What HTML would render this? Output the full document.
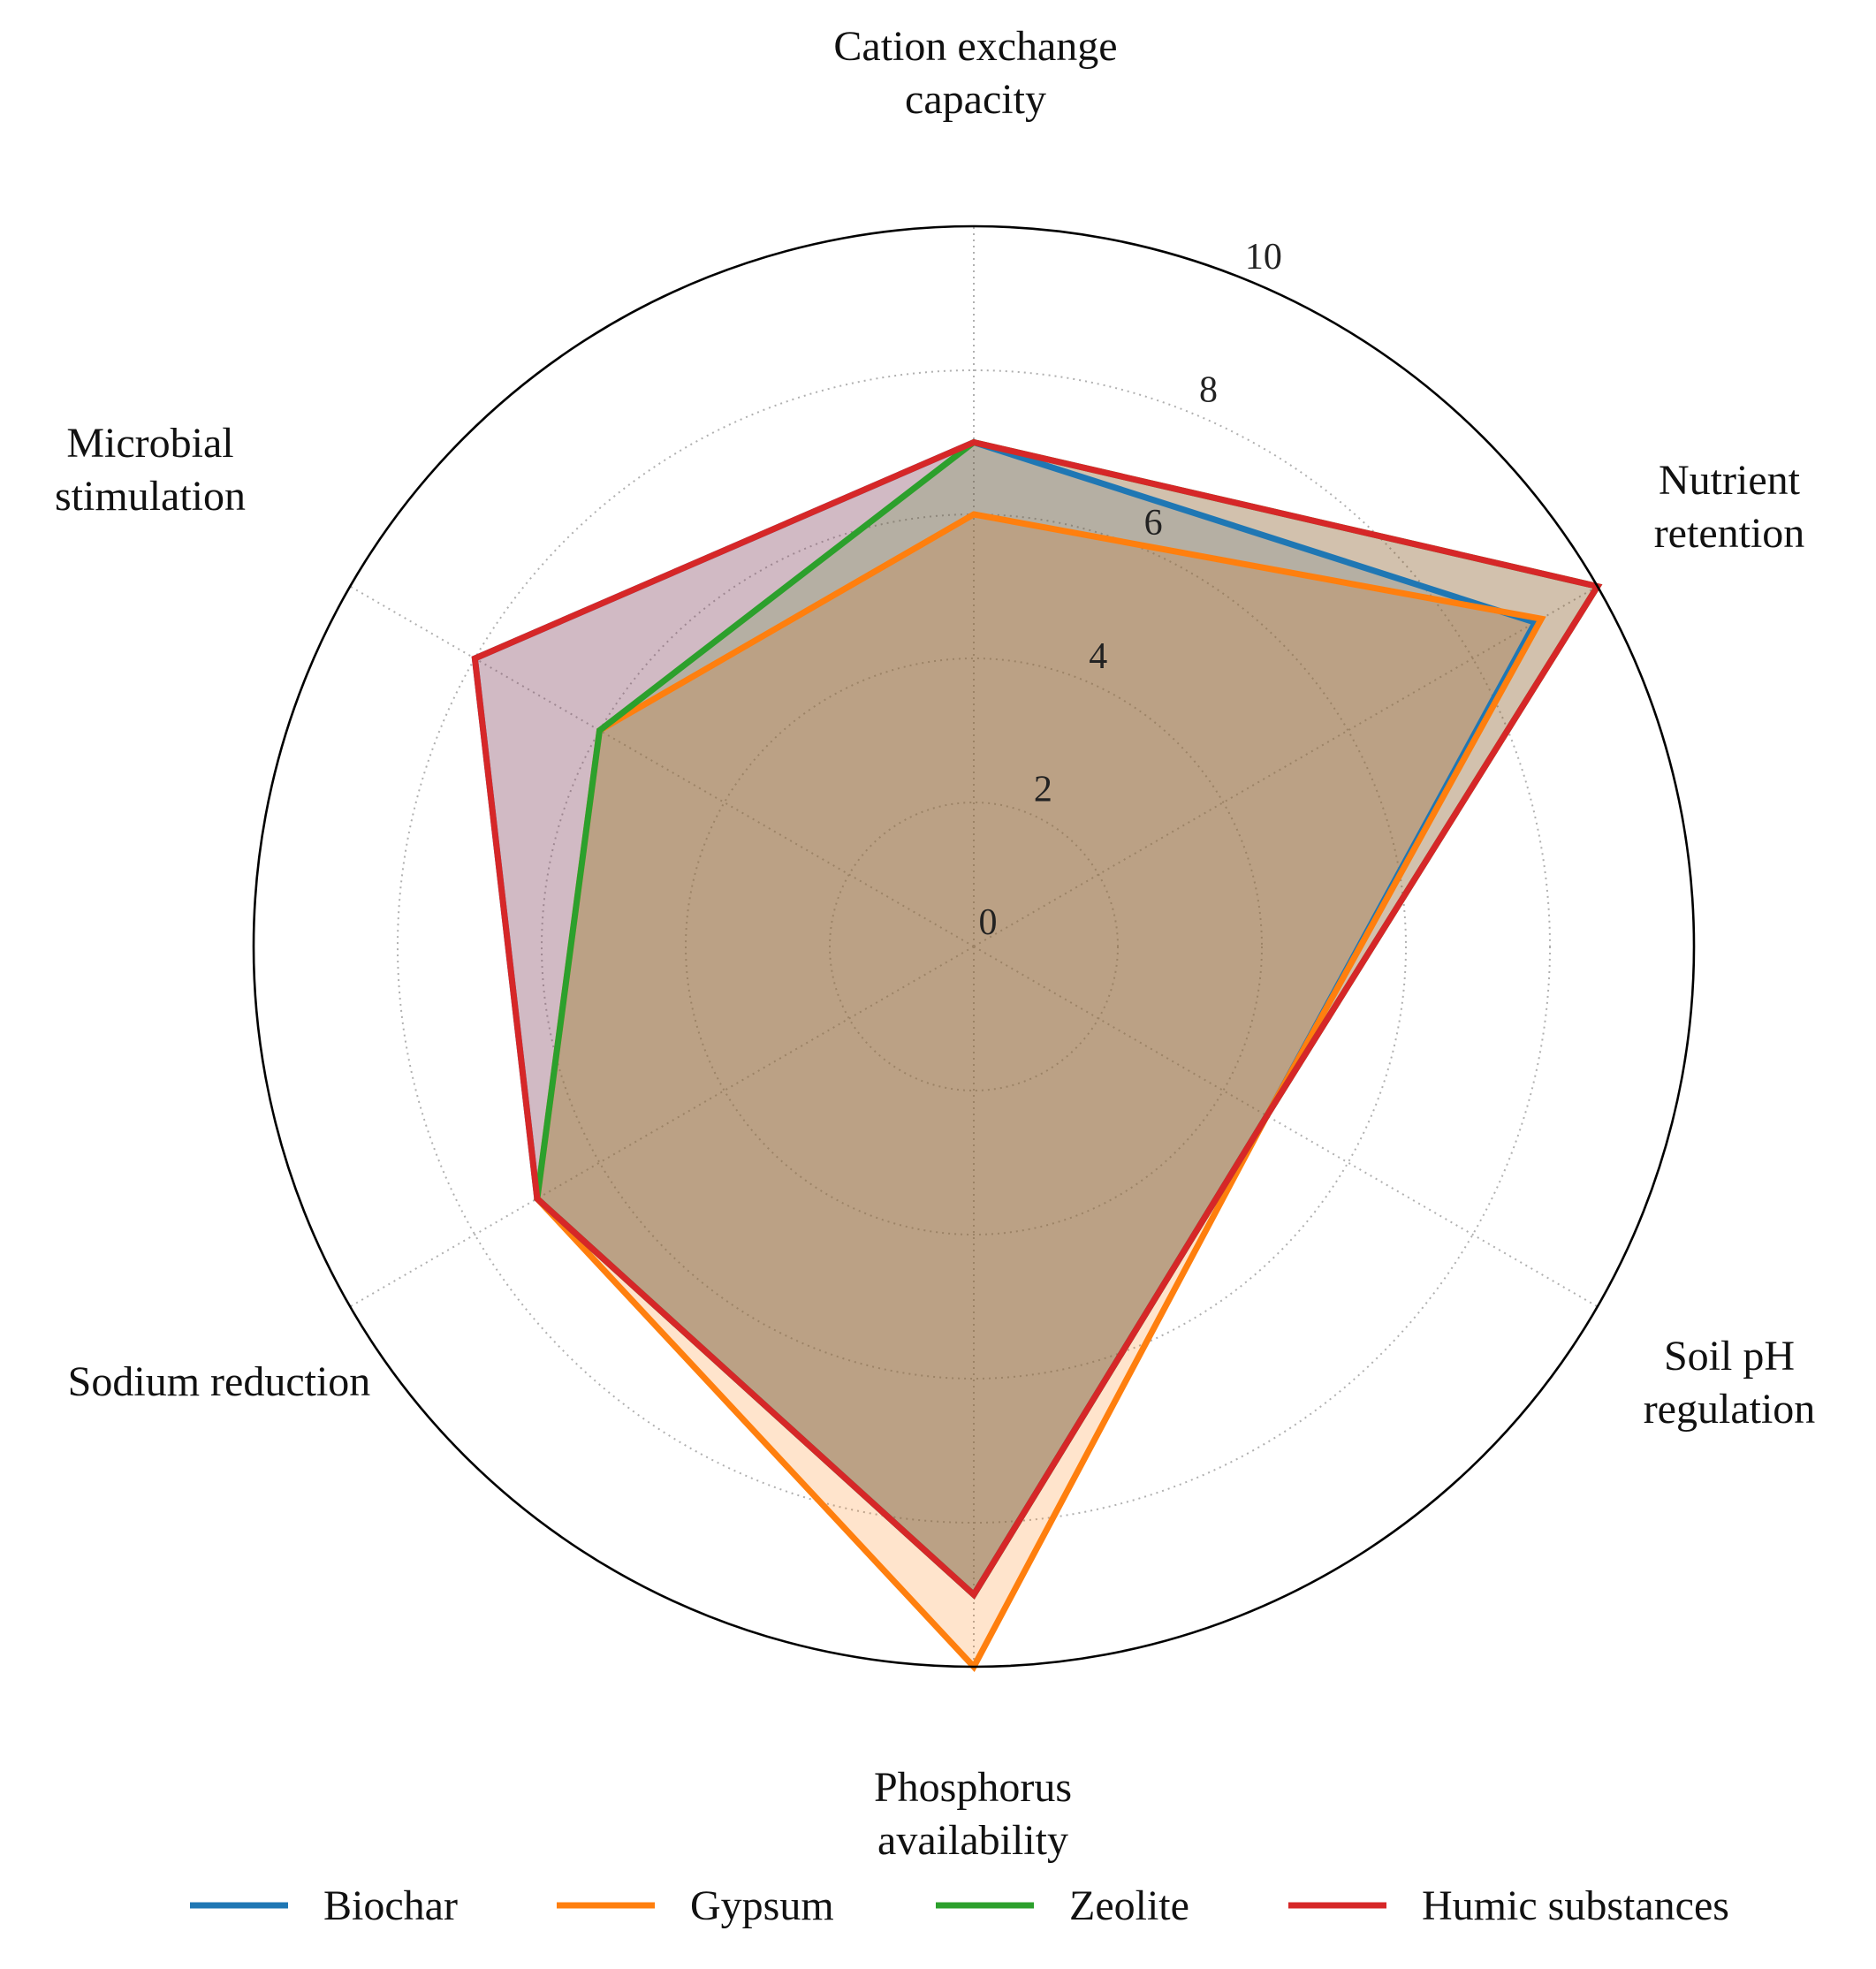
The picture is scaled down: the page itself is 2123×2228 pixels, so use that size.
<!DOCTYPE html>
<html><head><meta charset="utf-8"><style>
html,body{margin:0;padding:0;background:#fff;}
svg{display:block;font-family:"Liberation Serif",serif;}
</style></head><body>
<svg id="chart" width="2123" height="2228" viewBox="0 0 2123 2228" xmlns="http://www.w3.org/2000/svg">
<g id="grid"></g>
<g id="series"></g>
<g id="labels"></g>
<g id="legend"></g>
</svg>
<script>
const categories = ["Cation exchange|capacity","Nutrient|retention","Soil pH|regulation","Phosphorus|availability","Sodium reduction","Microbial|stimulation"];
const seriesNames = ["Biochar","Gypsum","Zeolite","Humic substances"];
const biochar = [7, 9, 4.7, 9, 7, 8];
const gypsum = [6, 9.1, 4.7, 10, 7, 6];
const zeolite = [7, 10, 4.7, 9, 7, 6];
const humic = [7, 10, 4.7, 9, 7, 8];
const rTicks = [0, 2, 4, 6, 8, 10];
const rMax = 10;

const colors = ["#1f77b4","#ff7f0e","#2ca02c","#d62728"];
const NS = "http://www.w3.org/2000/svg";
const cx = 1102, cy = 1071, R = 815;
function rScale(v){ return v / rMax * R; }
function angle(i){ return i * 2 * Math.PI / categories.length; }
function pt(i, v){ const a = angle(i), r = rScale(v); return [cx + r*Math.sin(a), cy - r*Math.cos(a)]; }
function mk(tag, attrs, parent){ const e = document.createElementNS(NS, tag); for (const k in attrs) e.setAttribute(k, attrs[k]); parent.appendChild(e); return e; }

const grid = document.getElementById("grid");
rTicks.forEach((t, k) => {
  if (t === 0 || t === rMax) return;
  const c = mk("circle", {cx: cx, cy: cy, r: rScale(t), fill: "none", stroke: "#b0b0b0", "stroke-width": 2, "stroke-dasharray": "2 5"}, grid);
  
  
});
categories.forEach((c, i) => {
  const p = pt(i, rMax);
  const l = mk("line", {x1: cx, y1: cy, x2: p[0], y2: p[1], stroke: "#b0b0b0", "stroke-width": 2, "stroke-dasharray": "2 5"}, grid);
  
  
});

const sg = document.getElementById("series");
const data = [biochar, gypsum, zeolite, humic];
data.forEach((vals, s) => {
  const pts = vals.map((v, i) => pt(i, v).map(n => n.toFixed(1)).join(",")).join(" ");
  const f = mk("polygon", {points: pts, fill: colors[s], "fill-opacity": 0.21, stroke: "none"}, sg);
  
  
});
data.forEach((vals, s) => {
  const pts = vals.map((v, i) => pt(i, v).map(n => n.toFixed(1)).join(",")).join(" ");
  const l = mk("polygon", {points: pts, fill: "none", stroke: colors[s], "stroke-width": 7, "stroke-linejoin": "miter"}, sg);
  
  
});

const oc = mk("circle", {cx: cx, cy: cy, r: R, fill: "none", stroke: "#000", "stroke-width": 2.6}, grid.parentNode);



const lg = document.getElementById("labels");
rTicks.forEach((t) => {
  const a = 22.5 * Math.PI / 180, r = rScale(t);
  const x = cx + 16 + r*Math.sin(a), y = cy - 14 - r*Math.cos(a);
  const e = mk("text", {x: x, y: y, "font-size": 42, "text-anchor": "middle", fill: "#222"}, lg);
  e.textContent = String(t);
  
  
});
const labelPos = [[1104, 68],[1957, 559],[1957, 1550],[1101, 2038],[248, 1579],[170, 517]];
categories.forEach((c, i) => {
  const lines = c.split("|");
  const e = mk("text", {x: labelPos[i][0], y: labelPos[i][1], "font-size": 48, "text-anchor": "middle", fill: "#111"}, lg);
  lines.forEach((ln, j) => {
    const ts = mk("tspan", {x: labelPos[i][0], dy: j === 0 ? 0 : 60}, e);
    ts.textContent = ln;
  });
  
  
});

const leg = document.getElementById("legend");
const legX = [215, 630, 1059, 1458];
seriesNames.forEach((n, s) => {
  const g = mk("g", {}, leg);
  
  
  mk("line", {x1: legX[s], y1: 2156, x2: legX[s] + 111, y2: 2156, stroke: colors[s], "stroke-width": 7}, g);
  const t = mk("text", {x: legX[s] + 151, y: 2172, "font-size": 48, fill: "#111"}, g);
  t.textContent = n;
});
</script>
</body></html>
